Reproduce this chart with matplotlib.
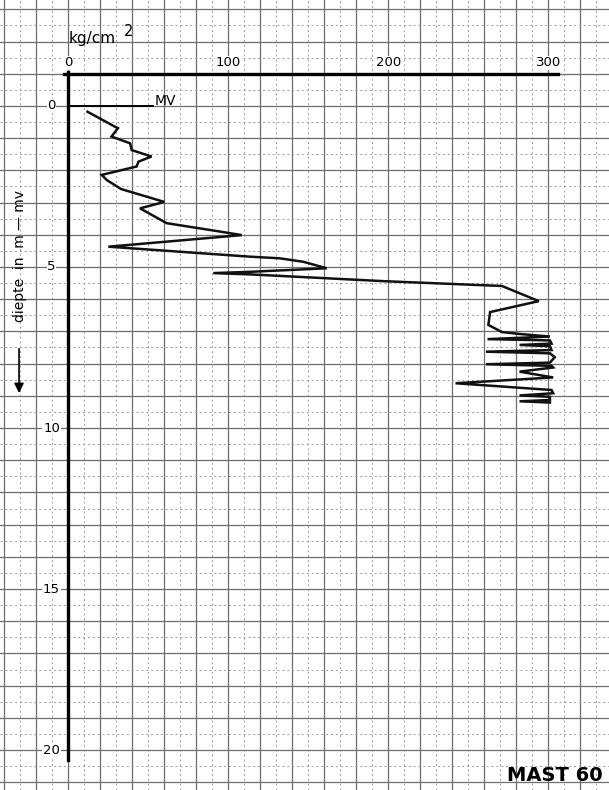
import numpy as np
import matplotlib
matplotlib.use("Agg")
import matplotlib.pyplot as plt

# cone resistance (kg/cm2) against depth (m below MV)
qc = [12, 29, 31, 27, 38.6, 39.6, 52, 43.8, 42.7, 20.9, 24, 33, 60, 44.8, 61.5, 94.8,
      108.4, 25, 113.6, 132, 147, 161.5, 113.6, 90.6, 113.6, 197, 271, 294, 263.6, 262.5,
      271, 282, 301,
      262, 301, 302, 282, 301, 302, 261, 301, 304, 301, 261, 302, 303, 282, 303, 242,
      302, 303, 282, 301, 301, 282, 301]
depth = [0.18, 0.64, 0.69, 0.95, 1.16, 1.37, 1.57, 1.73, 1.88, 2.14, 2.30, 2.58, 2.98, 3.18, 3.64, 3.90,
         4.01, 4.37, 4.68, 4.73, 4.84, 5.04, 5.15, 5.19, 5.23, 5.44, 5.59, 6.06, 6.40, 6.80,
         7.02, 7.08, 7.16,
         7.24, 7.28, 7.38, 7.42, 7.46, 7.58, 7.63, 7.68, 7.80, 7.97, 8.02, 8.07, 8.12, 8.25, 8.43, 8.61,
         8.82, 8.92, 8.99, 9.03, 9.13, 9.17, 9.21]

x_ticks = [0, 100, 200, 300]
depth_ticks = [0, 5, 10, 15, 20]

fig = plt.figure(figsize=(6.09, 7.90), dpi=100)
ax = fig.add_axes([0, 0, 1, 1])
ax.set_xlim(-42.7, 337.9)
ax.set_ylim(21.24, -3.29)
ax.axis('off')

# graph paper
for gx in np.arange(-40, 340, 20):
    ax.axvline(gx, color='#6e6e6e', lw=0.9, zorder=1)
    ax.axvline(gx + 10, color='#9a9a9a', lw=0.7, ls=(0, (2, 3)), zorder=1)
for gy in np.arange(-3, 22, 1):
    ax.axhline(gy, color='#6e6e6e', lw=0.9, zorder=1)
    ax.axhline(gy + 0.5, color='#9a9a9a', lw=0.7, ls=(0, (2, 3)), zorder=1)

# axes drawn on the paper
ax.plot([-3, 306], [-1, -1], color='black', lw=2.4, zorder=3)
ax.plot([0, 0], [-1.05, 20.3], color='black', lw=2.4, zorder=3)
ax.plot([0, 53], [0, 0], color='black', lw=1.4, zorder=3)
ax.text(54, 0.05, 'MV', fontsize=10, ha='left', va='bottom', zorder=4)

for t in x_ticks:
    ax.text(t, -1.34, str(t), fontsize=9.5, ha='center', va='center', zorder=4,
            bbox=dict(facecolor='white', edgecolor='none', pad=0.5))
for t in depth_ticks:
    ax.text(-10.5, t, str(t), fontsize=9.5, ha='center', va='center', zorder=4,
            bbox=dict(facecolor='white', edgecolor='none', pad=0.5))

ax.text(0, -2.08, 'kg/cm', fontsize=11, ha='left', va='center', zorder=4)
ax.text(34.5, -2.3, '2', fontsize=10.5, ha='left', va='center', zorder=4)

ax.text(-30.2, 4.66, 'diepte  in  m — mv', fontsize=10, rotation=90,
        ha='center', va='center', zorder=4)
ax.annotate('', xy=(-30.8, 9.0), xytext=(-30.8, 7.45),
            arrowprops=dict(arrowstyle='-|>', color='black', lw=1.2,
                            mutation_scale=14), zorder=4)

# sounding trace
ax.plot(qc, depth, color='#111111', lw=1.8, zorder=5, solid_joinstyle='miter')

fig.text(0.99, 0.006, 'MAST 60', fontsize=14, fontweight='bold', ha='right', va='bottom')

fig.savefig('out.png', dpi=100)
